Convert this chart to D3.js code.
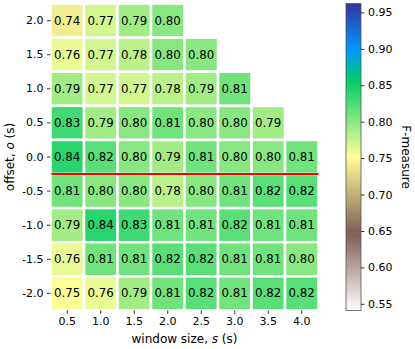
<!DOCTYPE html>
<html>
  <head>
    <meta charset="UTF-8">
    <title>F-measure heatmap</title>
    <script src="https://cdn.jsdelivr.net/npm/d3@7"></script>
    <style>
      body { margin: 0; background: #fff; }
      text { font-family: "DejaVu Sans", sans-serif; fill: #000; }
    </style>
  </head>
  <body>
    <svg width="415" height="349"></svg>
    <script>
      // Data
      var windowSizes = [0.5, 1.0, 1.5, 2.0, 2.5, 3.0, 3.5, 4.0];
      var offsets = [2.0, 1.5, 1.0, 0.5, 0.0, -0.5, -1.0, -1.5, -2.0];
      var fmeasure = [
        [0.74, 0.77, 0.79, 0.80, null, null, null, null],
        [0.76, 0.77, 0.78, 0.80, 0.80, null, null, null],
        [0.79, 0.77, 0.77, 0.78, 0.79, 0.81, null, null],
        [0.83, 0.79, 0.80, 0.81, 0.80, 0.80, 0.79, null],
        [0.84, 0.82, 0.80, 0.79, 0.81, 0.80, 0.80, 0.81],
        [0.81, 0.80, 0.80, 0.78, 0.80, 0.81, 0.82, 0.82],
        [0.79, 0.84, 0.83, 0.81, 0.81, 0.82, 0.81, 0.81],
        [0.76, 0.81, 0.81, 0.82, 0.82, 0.81, 0.81, 0.80],
        [0.75, 0.76, 0.79, 0.81, 0.82, 0.81, 0.82, 0.82]
      ];
      var cbarTicks = [0.55, 0.60, 0.65, 0.70, 0.75, 0.80, 0.85, 0.90, 0.95];
      var vmin = 0.541, vmax = 0.962;
      var markOffset = 0.0; // red line drawn below this row

      var svg = d3.select("svg");

      // matplotlib "terrain" colormap, reversed
      var terrainPos = [0.0, 0.15, 0.25, 0.50, 0.75, 1.0];
      var terrainCol = ["#333399", "#0099ff", "#00cc66", "#ffff99", "#805c54", "#ffffff"];
      var color = d3.scaleLinear()
          .domain(terrainPos.map(function(p) { return vmin + (1 - p) * (vmax - vmin); }))
          .range(terrainCol)
          .interpolate(d3.interpolateRgb)
          .clamp(true);

      var x = d3.scaleBand().domain(windowSizes).range([50.5, 318.5]);
      var y = d3.scaleBand().domain(offsets).range([3.6, 310.4]);

      // cells
      var cells = [];
      offsets.forEach(function(o, i) {
        windowSizes.forEach(function(s, j) {
          if (fmeasure[i][j] != null) cells.push({o: o, s: s, v: fmeasure[i][j]});
        });
      });

      var g = svg.append("g");
      g.selectAll("rect.cell")
        .data(cells)
        .enter().append("rect")
          .attr("class", "cell")
          .attr("x", function(d) { return x(d.s); })
          .attr("y", function(d) { return y(d.o); })
          .attr("width", x.bandwidth())
          .attr("height", y.bandwidth())
          .attr("fill", function(d) { return color(d.v); })
          .attr("stroke", "#fff")
          .attr("stroke-width", 2.5);

      g.selectAll("text.val")
        .data(cells)
        .enter().append("text")
          .attr("class", "val")
          .attr("x", function(d) { return x(d.s) + x.bandwidth() / 2; })
          .attr("y", function(d) { return y(d.o) + y.bandwidth() / 2; })
          .attr("text-anchor", "middle")
          .attr("dominant-baseline", "central")
          .style("font-size", "11.8px")
          .text(function(d) { return d.v.toFixed(2); });

      // red line under offset 0
      var ly = y(markOffset) + y.bandwidth();
      svg.append("line")
          .attr("x1", x.range()[0] + 1).attr("x2", x.range()[1])
          .attr("y1", ly).attr("y2", ly)
          .attr("stroke", "#ff0000")
          .attr("stroke-width", 2);

      // axes
      var fmt = function(d) { return d.toFixed(1); };
      var xAxis = svg.append("g")
          .attr("transform", "translate(0," + y.range()[1] + ")")
          .call(d3.axisBottom(x).tickSize(3.5).tickPadding(3.5).tickFormat(fmt));
      var yAxis = svg.append("g")
          .attr("transform", "translate(" + x.range()[0] + ",0)")
          .call(d3.axisLeft(y).tickSize(3.5).tickPadding(3.5).tickFormat(fmt));
      [xAxis, yAxis].forEach(function(a) {
        a.select(".domain").remove();
        a.selectAll(".tick line").attr("stroke", "#000").attr("stroke-width", 0.8);
        a.selectAll(".tick text").style("font-size", "11px").attr("fill", "#000");
      });

      var xl = svg.append("text")
          .attr("x", (x.range()[0] + x.range()[1]) / 2)
          .attr("y", 343)
          .attr("text-anchor", "middle")
          .style("font-size", "12px");
      xl.append("tspan").text("window size, ");
      xl.append("tspan").style("font-style", "italic").text("s");
      xl.append("tspan").text(" (s)");

      var yl = svg.append("text")
          .attr("transform", "translate(14," + (y.range()[0] + y.range()[1]) / 2 + ") rotate(-90)")
          .attr("text-anchor", "middle")
          .style("font-size", "12px");
      yl.append("tspan").text("offset, ");
      yl.append("tspan").style("font-style", "italic").text("o");
      yl.append("tspan").text(" (s)");

      // colorbar
      var cbX = 346, cbW = 15;
      var cy = d3.scaleLinear().domain([vmin, vmax]).range([y.range()[1], y.range()[0]]);
      var grad = svg.append("defs").append("linearGradient")
          .attr("id", "cbar").attr("x1", 0).attr("x2", 0).attr("y1", 1).attr("y2", 0);
      d3.range(0, 1.0001, 0.02).forEach(function(t) {
        grad.append("stop")
            .attr("offset", t)
            .attr("stop-color", color(vmin + t * (vmax - vmin)));
      });
      svg.append("rect")
          .attr("x", cbX).attr("y", y.range()[0])
          .attr("width", cbW).attr("height", y.range()[1] - y.range()[0])
          .attr("fill", "url(#cbar)")
          .attr("stroke", "#555").attr("stroke-width", 0.8);
      var cAxis = svg.append("g")
          .attr("transform", "translate(" + (cbX + cbW) + ",0)")
          .call(d3.axisRight(cy).tickValues(cbarTicks).tickSize(3.5).tickPadding(3.5)
            .tickFormat(function(d) { return d.toFixed(2); }));
      cAxis.select(".domain").remove();
      cAxis.selectAll(".tick line").attr("stroke", "#000").attr("stroke-width", 0.8);
      cAxis.selectAll(".tick text").style("font-size", "11px").attr("fill", "#000");

      svg.append("text")
          .attr("transform", "translate(402," + (y.range()[0] + y.range()[1]) / 2 + ") rotate(90)")
          .attr("text-anchor", "middle")
          .style("font-size", "12px")
          .text("F-measure");
    </script>
  </body>
</html>
